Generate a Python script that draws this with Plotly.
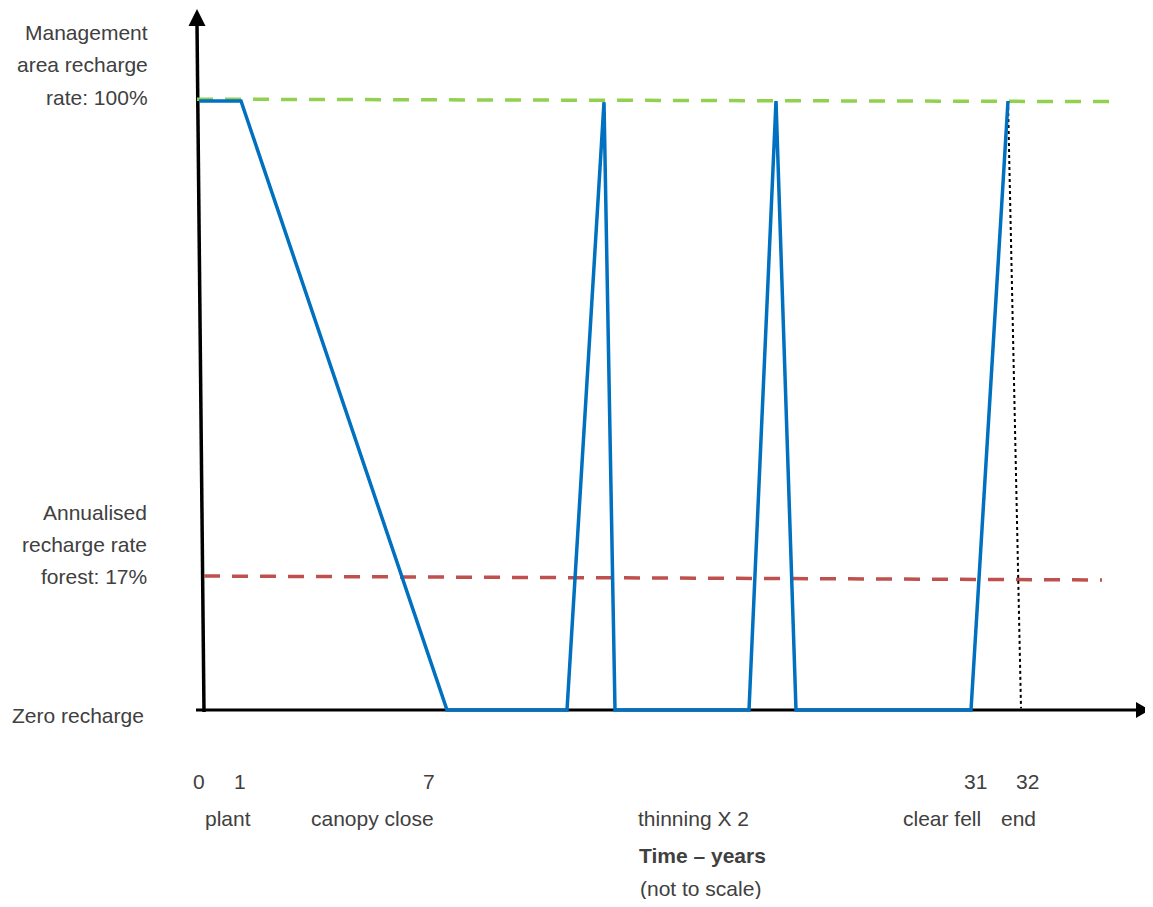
import plotly.graph_objects as go

# ---- data (schematic positions: x in horizontal chart units, y in % recharge) ----
blue_x = [199, 241, 447, 567, 604, 615, 749, 776, 796, 971, 1008]
blue_y = [100, 100, 0, 0, 99.8, 0, 0, 100, 0, 0, 100]

mgmt_x = [197, 1110]
mgmt_y = [100.3, 99.9]

forest_x = [204, 1102]
forest_y = [22.0, 21.35]

end_x = [1008, 1021]
end_y = [100, 0.3]

tick_labels = ["0", "1", "7", "31", "32"]
tick_pos = [199, 240, 429, 975, 1027]
event_labels = ["plant", "canopy close", "thinning X 2", "clear fell", "end"]
event_pos = [228, 372, 693, 942, 1018]

# page has an 8px body margin; figure sized so the page does not overflow
OFF = 8
W, H = 1153 - OFF, 907 - 2 * OFF
PX_PER_UNIT = 6.09
ZERO_PX = 710
YMAX = (ZERO_PX - OFF) / PX_PER_UNIT
YMIN = YMAX - H / PX_PER_UNIT


def ypx(p):
    return (ZERO_PX - p) / PX_PER_UNIT


FONT = "Liberation Sans, Arial, sans-serif"
TXT = "#404040"
FS = 21

fig = go.Figure()

fig.add_trace(go.Scatter(x=mgmt_x, y=mgmt_y, mode="lines",
                         line=dict(color="#92D050", width=3.5, dash="16px,12px"),
                         hoverinfo="skip", showlegend=False))
fig.add_trace(go.Scatter(x=forest_x, y=forest_y, mode="lines",
                         line=dict(color="#C0504D", width=3.5, dash="16px,12px"),
                         hoverinfo="skip", showlegend=False))
fig.add_trace(go.Scatter(x=end_x, y=end_y, mode="lines",
                         line=dict(color="black", width=2, dash="dot"),
                         hoverinfo="skip", showlegend=False))
fig.add_trace(go.Scatter(x=blue_x, y=blue_y, mode="lines",
                         line=dict(color="#0070C0", width=3.5),
                         hoverinfo="skip", showlegend=False))

shapes = [
    # vertical axis
    dict(type="line", x0=197, y0=ypx(24), x1=204, y1=ypx(712),
         line=dict(color="black", width=3.5), layer="below"),
    # horizontal axis
    dict(type="line", x0=196, y0=0, x1=1138, y1=0,
         line=dict(color="black", width=3), layer="below"),
    # arrowheads
    dict(type="path",
         path=f"M 197 {ypx(9)} L 188.5 {ypx(26)} L 205.5 {ypx(26)} Z",
         fillcolor="black", line=dict(color="black", width=0), layer="below"),
    dict(type="path",
         path=f"M 1150 0 L 1136 {ypx(702)} L 1136 {ypx(718)} Z",
         fillcolor="black", line=dict(color="black", width=0), layer="below"),
]

ann = []


def text(x, ypix, s, xanchor="center", bold=False):
    ann.append(dict(x=x, y=ypx(ypix), xref="x", yref="y", text=f"<b>{s}</b>" if bold else s,
                    showarrow=False, xanchor=xanchor, yanchor="middle",
                    font=dict(family=FONT, size=FS, color=TXT)))


for s, yp in zip(["Management", "area recharge", "rate: 100%"], [32, 64, 97]):
    text(150, yp, s, xanchor="right")
for s, yp in zip(["Annualised", "recharge rate", "forest: 17%"], [512, 544, 576]):
    text(149, yp, s, xanchor="right")
text(10, 715, "Zero recharge", xanchor="left")

for s, xp in zip(tick_labels, tick_pos):
    text(xp, 781, s)
for s, xp in zip(event_labels, event_pos):
    text(xp, 818, s)
text(702, 855, "Time – years", bold=True)
text(700, 888, "(not to scale)")

fig.update_layout(
    width=W, height=H, autosize=False,
    margin=dict(l=0, r=0, t=0, b=0),
    paper_bgcolor="white", plot_bgcolor="white",
    xaxis=dict(range=[OFF, OFF + W], visible=False, fixedrange=True),
    yaxis=dict(range=[YMIN, YMAX], visible=False, fixedrange=True),
    shapes=shapes, annotations=ann, showlegend=False,
)

fig.write_html("out.html")
